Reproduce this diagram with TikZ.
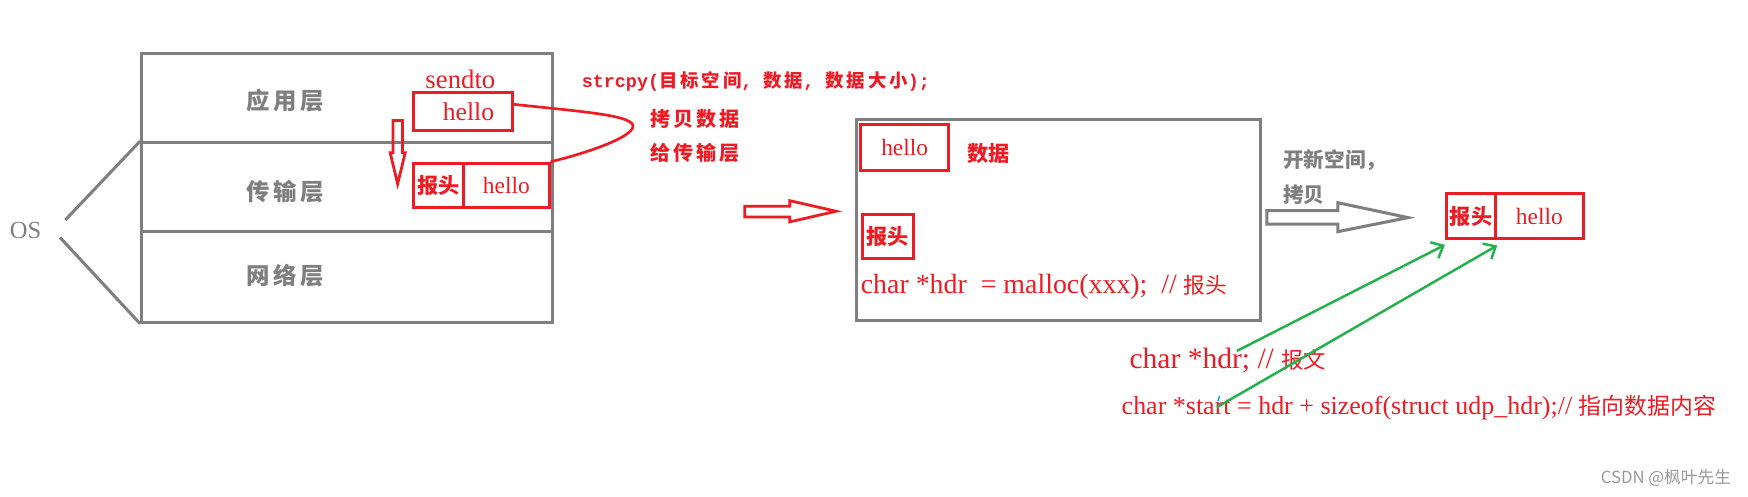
\documentclass[tikz,border=0pt]{standalone}
\usepackage{fontspec}
\setmainfont{Liberation Serif}
\setmonofont{Liberation Mono}
\newfontfamily\cnb{Noto Sans CJK SC}
\newfontfamily\cnbs{Noto Sans CJK SC}[LetterSpace=16]
\newfontfamily\cnbl{Noto Sans CJK SC}[LetterSpace=14]
\newfontfamily\wmfont{Noto Sans CJK SC}
\usetikzlibrary{arrows.meta}
\definecolor{pred}{HTML}{ED1C24}
\definecolor{pgray}{HTML}{7F7F7F}
\definecolor{pgreen}{HTML}{22B14C}
\definecolor{wmgray}{HTML}{9A9A9A}
\definecolor{tickblue}{HTML}{00A2E8}
\tikzset{
  graybox/.style={draw=pgray, line width=2.7pt, inner sep=0pt},
  grayline/.style={draw=pgray, line width=2.7pt, line join=miter},
  redbox/.style={draw=pred, line width=2.7pt, inner sep=0pt, text=pred},
  redline/.style={draw=pred, line width=2.4pt},
  hollowred/.style={draw=pred, line width=2.5pt, line join=miter},
  redtxt/.style={text=pred, inner sep=0pt},
  graytxt/.style={text=pgray, inner sep=0pt},
  layerlbl/.style={text=pgray, inner sep=0pt, font={\cnbl\bfseries\fontsize{21}{25}\selectfont}},
  greenarrow/.style={draw=pgreen, line width=2.2pt, -{Straight Barb[length=9pt,width=16pt]}},
  lat21/.style={font={\fontsize{21}{25}\selectfont}},
  cn19/.style={font={\cnb\bfseries\fontsize{19}{23}\selectfont}}
}
\begin{document}
\begin{tikzpicture}[x=1pt,y=-1pt]
\fill[white] (0,0) rectangle (1568,445);
\useasboundingbox (0,0) rectangle (1568,445);

% OS protocol stack
\node[graybox, minimum width=369pt, minimum height=80.2pt] (app) at (311.5,87.9) {};
\node[graybox, minimum width=369pt, minimum height=80pt] (trans) at (311.5,168) {};
\node[graybox, minimum width=369pt, minimum height=81pt] (net) at (311.5,248.5) {};
\node[layerlbl] (lapp) at (256,90.6) {应用层};
\node[layerlbl] (ltrans) at (256,172) {传输层};
\node[layerlbl] (lnet) at (256,247.6) {网络层};
\node[graytxt, font={\fontsize{22}{26}\selectfont}] (os) at (23,207) {OS};
\coordinate (osu) at (58.6,197.3);
\coordinate (osl) at (53.8,213);
\draw[grayline] (osu) -- (trans.north west);
\draw[grayline] (osl) -- (net.south west);

% sendto and buffers
\node[redtxt, font={\fontsize{24}{28}\selectfont}] (sendto) at (413,71) {sendto};
\node[redbox, minimum width=89pt, minimum height=34.4pt, font={\fontsize{23}{27}\selectfont}] (h1) at (415.2,100) {\hspace{10pt}hello};
\node[redbox, cn19, minimum width=44.8pt, minimum height=39.8pt] (b2l) at (393.4,166.4) {报头};
\node[redbox, lat21, minimum width=76.8pt, minimum height=39.8pt] (b2r) at (454.2,166.4) {hello};

% hollow down arrow
\coordinate (da) at (356.7,108);
\draw[hollowred] ([xshift=-4.2pt]da) -- ([xshift=4.3pt]da) -- ++(0,29) -- ++(2.5,0) -- (356.7,165) -- (350,137) -- ++(2.5,0) -- cycle;

% copy curve
\draw[redline] ([yshift=6.4pt]h1.east) .. controls (530,101) and (578,104) .. (566,117) .. controls (556,128) and (515,140) .. (b2r.north east);

\node[redtxt, anchor=west, font={\bfseries\fontsize{16.5}{19}\selectfont}] (strcpy) at (521.7,73) {\ttfamily strcpy(\cnbs 目标空间\ttfamily, \cnbs 数据\ttfamily, \cnbs 数据大小\ttfamily );};
\node[redtxt, anchor=west, font={\cnbs\bfseries\fontsize{18}{21}\selectfont}] (copy1) at (583,107) {拷贝数据};
\node[redtxt, anchor=west, font={\cnbs\bfseries\fontsize{18}{21}\selectfont}] (copy2) at (583,137.6) {给传输层};

% hollow right arrow (red)
\draw[hollowred] (668,185) -- (708.5,185) -- (708.5,180) -- (750,189.5) -- (708.5,199) -- (708.5,194.6) -- (668,194.6) -- cycle;

% middle memory box
\node[graybox, minimum width=362.5pt, minimum height=180pt] (mbox) at (949.25,197.6) {};
\node[redbox, lat21, minimum width=79pt, minimum height=40.5pt] (mh) at (811.5,132.3) {hello\hspace{10pt}};
\node[redtxt, cn19] (mdata) at (886.5,137.5) {数据};
\node[redbox, cn19, minimum width=45pt, minimum height=40pt] (mhdr) at (796.5,212) {报头};
\node[redtxt, anchor=west, font={\fontsize{25}{29}\selectfont}] (mcode) at (772,257) {char *hdr\ \ = malloc(xxx);\ \ // {\cnb\fontsize{19.5}{23}\selectfont 报头}};

% gray hollow arrow
\draw[grayline] (1136.4,189) -- (1200,189) -- (1200,181.8) -- (1263,195.2) -- (1200,207.8) -- (1200,201) -- (1136.4,201) -- cycle;
\node[graytxt, anchor=west, font={\cnb\bfseries\fontsize{18.5}{22}\selectfont}] (newsp) at (1151,143.5) {开新空间，};
\node[graytxt, anchor=west, font={\cnb\bfseries\fontsize{18.5}{22}\selectfont}] (cpy) at (1151,175) {拷贝};

% right buffer
\node[redbox, cn19, minimum width=44.2pt, minimum height=40.9pt] (rl) at (1319.6,193.85) {报头};
\node[redbox, lat21, minimum width=78.3pt, minimum height=40.9pt] (rr) at (1380.85,193.85) {hello};

% pointer texts
\node[redtxt, anchor=west, font={\fontsize{26.5}{30}\selectfont}] (c1) at (1013,323) {char *hdr; // {\cnb\fontsize{20}{24}\selectfont 报文}};
\node[redtxt, anchor=west, font={\fontsize{23.3}{27}\selectfont}] (c2) at (1006,366) {char *start = hdr + sizeof(struct udp\_hdr);// {\cnb\fontsize{20.5}{24}\selectfont 指向数据内容}};
\coordinate (g1) at (1109.5,314.8);
\coordinate (g2) at (1091.5,365.3);
\draw[greenarrow] (g1) -- ([yshift=-4pt]rl.south west);
\draw[greenarrow] (g2) -- ([yshift=-4.5pt]rl.south east);
\draw[tickblue, line width=1.2pt] (1092.5,360) -- (1094,355);

% watermark
\node[text=wmgray, anchor=east, inner sep=0pt, font={\wmfont\fontsize{15}{18}\selectfont}] (wm) at (1553,428.8) {CSDN @枫叶先生};
\end{tikzpicture}
\end{document}
